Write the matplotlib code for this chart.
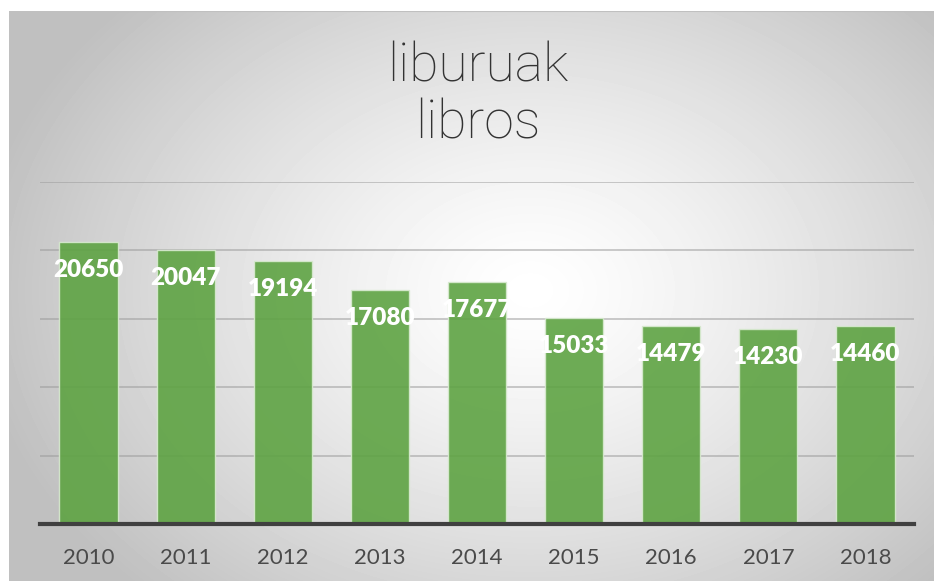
import numpy as np
import matplotlib
matplotlib.use("Agg")
import matplotlib.pyplot as plt

years = ["2010", "2011", "2012", "2013", "2014", "2015", "2016", "2017", "2018"]
books = [20650, 20047, 19194, 17080, 17677, 15033, 14479, 14230, 14460]
title = "liburuak\nlibros"

W, H = 934, 582
fig = plt.figure(figsize=(W / 100, H / 100), dpi=100)
fig.patch.set_facecolor("white")

# panel with radial gradient background
px0, px1, py0, py1 = 9, 934, 11, 581
bg = fig.add_axes([px0 / W, 1 - py1 / H, (px1 - px0) / W, (py1 - py0) / H])
yy, xx = np.mgrid[py0:py1, px0:px1]
r = np.sqrt(((xx - 530) / 560.0) ** 2 + ((yy - 290) / 420.0) ** 2)
val = 1.0 - 0.25 * np.clip(r, 0, 1) ** 1.3
bg.imshow(val, cmap="gray", vmin=0, vmax=1, aspect="auto",
          extent=[0, 1, 0, 1], interpolation="bilinear")
bg.set_xlim(0, 1)
bg.set_ylim(0, 1)
bg.axis("off")
bg.plot([0, 1], [1, 1], color="#c0c0c0", lw=1.5, transform=bg.transAxes)

# plot area
ax_l, ax_r, ax_t, ax_b = 40, 914, 182, 524
ax = fig.add_axes([ax_l / W, 1 - ax_b / H, (ax_r - ax_l) / W, (ax_b - ax_t) / H])
ax.patch.set_alpha(0)
x = np.arange(len(years))
ax.bar(x, books, width=0.6, color="#5ea343", alpha=0.9,
       edgecolor="#d8ead0", linewidth=1, zorder=3)
ax.set_xlim(-0.5, len(years) - 0.5)
ax.set_ylim(0, 25000)
ax.set_yticks([5000, 10000, 15000, 20000, 25000])
ax.yaxis.grid(True, color="#9a9a9a", lw=1.2, alpha=0.6, zorder=0)
ax.tick_params(axis="y", left=False, labelleft=False)
ax.tick_params(axis="x", bottom=False, pad=14, labelsize=16, labelcolor="#4a4a4a")
ax.set_xticks(x)
ax.set_xticklabels(years, fontfamily="Lato")
for s in ["top", "left", "right"]:
    ax.spines[s].set_visible(False)
ax.spines["bottom"].set_color("#404040")
ax.spines["bottom"].set_linewidth(3)
ax.spines["bottom"].set_zorder(5)

for xi, v in zip(x, books):
    ax.annotate(str(v), (xi, v), xytext=(0, -28), textcoords="offset pixels",
                ha="center", va="center", color="white", fontsize=17.5,
                fontweight="heavy", fontfamily="Lato", zorder=6)

fig.text(478 / W, 1 - 95 / H, title, ha="center", va="center", fontsize=38.5,
         color="#333333", fontfamily="Roboto", fontweight="light",
         linespacing=1.14)

fig.savefig("out.png", dpi=100)
